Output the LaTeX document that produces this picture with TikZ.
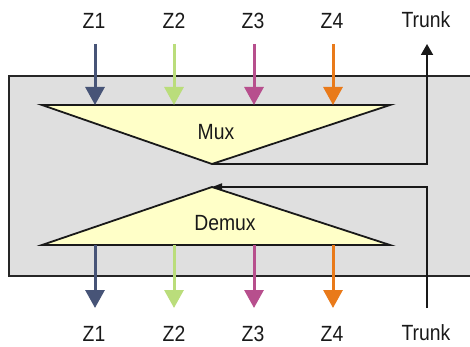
\documentclass[tikz,border=0pt]{standalone}
\usepackage{fontspec}
\setmainfont{Liberation Sans}[FakeStretch=0.88]
\usetikzlibrary{arrows.meta}
\definecolor{zone1}{HTML}{475477}
\definecolor{zone2}{HTML}{BADD7B}
\definecolor{zone3}{HTML}{B74F8D}
\definecolor{zone4}{HTML}{E97A1A}
\definecolor{trifill}{HTML}{FFFFC8}
\definecolor{boxgray}{HTML}{DFDFDF}
\begin{document}
\begin{tikzpicture}[x=1pt,y=-1pt,
  lab/.style={font=\fontsize{22}{24}\selectfont, anchor=base, inner sep=0pt, text=black!90},
  zarrow/.style={line width=3pt, -{Triangle[length=18pt,width=19pt]}},
  trunkline/.style={line width=1.8pt, black!90},
  tri/.style={line width=1.8pt, draw=black!90, fill=trifill, line join=miter}]
\useasboundingbox (0,0) rectangle (470,347);
% housing
\fill[boxgray] (9,76) rectangle (470,276);
\draw[line width=1.8pt, black!85] (470,76) -- (9,76) -- (9,276) -- (470,276);
% triangles
\draw[tri] (42,105) -- (390,105) -- (212,164) -- cycle;
\draw[tri] (42,245) -- (390,245) -- (212,187) -- cycle;
\coordinate (muxapex) at (212,164);
\coordinate (demuxapex) at (212,187);
\node[lab] (mux) at (216,140) {Mux};
\node[lab] (demux) at (225,230) {Demux};
% labels
\node[lab] (tz1) at (94,29) {Z1};
\node[lab] (tz2) at (174,29) {Z2};
\node[lab] (tz3) at (253,29) {Z3};
\node[lab] (tz4) at (332,29) {Z4};
\node[lab] (ttr) at (426,28) {Trunk};
\node[lab] (bz1) at (94,341) {Z1};
\node[lab] (bz2) at (174,341) {Z2};
\node[lab] (bz3) at (253,341) {Z3};
\node[lab] (bz4) at (332,341) {Z4};
\node[lab] (btr) at (426,340) {Trunk};
% coordinates
\foreach \n/\x in {1/95,2/174,3/254,4/333}{
  \coordinate (ts\n) at (\x,44);
  \coordinate (te\n) at (\x,105);
  \coordinate (bs\n) at (\x,245);
  \coordinate (be\n) at (\x,308);
}
\coordinate (trtop) at (427,44);
\coordinate (trbot) at (427,308);
% zone arrows
\foreach \n in {1,2,3,4}{
  \draw[zarrow, zone\n] (ts\n) -- (te\n);
  \draw[zarrow, zone\n] (bs\n) -- (be\n);
}
% trunk
\draw[trunkline, -{Triangle[length=11pt,width=12pt]}] (muxapex) -- (427,164) -- (trtop);
\draw[trunkline, -{Triangle[length=10pt,width=7pt]}] (trbot) -- (427,187) -- (demuxapex);
\end{tikzpicture}
\end{document}
